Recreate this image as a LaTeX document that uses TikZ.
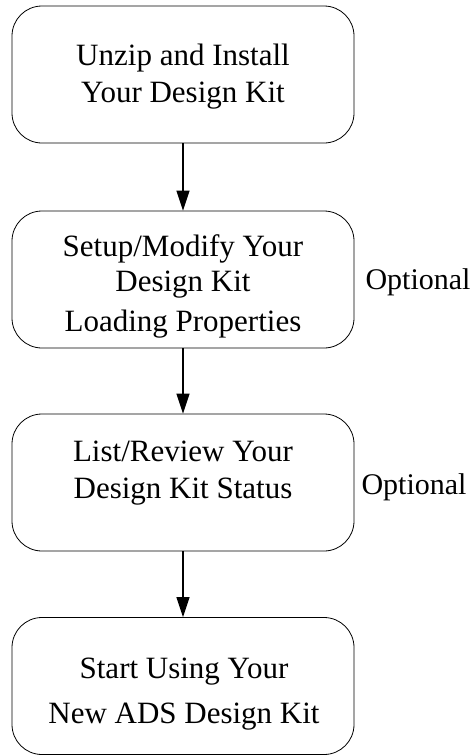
\documentclass[tikz,border=0pt]{standalone}
\usepackage{fontspec}
\setmainfont{Liberation Serif}
\usetikzlibrary{arrows.meta}
\begin{document}
\begin{tikzpicture}[x=1pt,y=-1pt,>={Triangle[length=20pt,width=13pt]}]
        \tikzstyle{kitbox}=[draw=black,line width=0.8pt,rounded corners=30pt,minimum width=342pt,minimum height=137pt]
        \tikzstyle{kittext}=[align=center,font=\fontsize{31}{37}\selectfont]
        \tikzstyle{optional}=[anchor=west,font=\fontsize{30}{37}\selectfont]
        \tikzstyle{edge}=[draw,->,line width=1.2pt]
        \useasboundingbox (0,0) rectangle (472,755);
       \begin{scope}
         \node [kitbox] (k1) at (183,74.5) {};
         \node [kitbox] (k2) at (183,279.5) {};
         \node [kitbox] (k3) at (183,482.5) {};
         \node [kitbox] (k4) at (183,686) {};
         \node [kittext] (t1) at (183,76.5) {Unzip and Install\\Your Design Kit};
         \node [kittext] (t2) at (183,286) {Setup/Modify Your\\[-2pt]Design Kit\\[3pt]Loading Properties};
         \node [kittext] (t3) at (183,473.5) {List/Review Your\\Design Kit Status};
         \node [kittext] (t4) at (184,694.5) {Start Using Your\\[8pt]New ADS Design Kit};
         \node [optional] (o2) at (362,282) {Optional};
         \node [optional] (o3) at (358,487) {Optional};
         \path[edge] (k1) -- (k2);
         \path[edge] (k2) -- (k3);
         \path[edge] (k3) -- (k4);
        \end{scope}
      \end{tikzpicture}
\end{document}
